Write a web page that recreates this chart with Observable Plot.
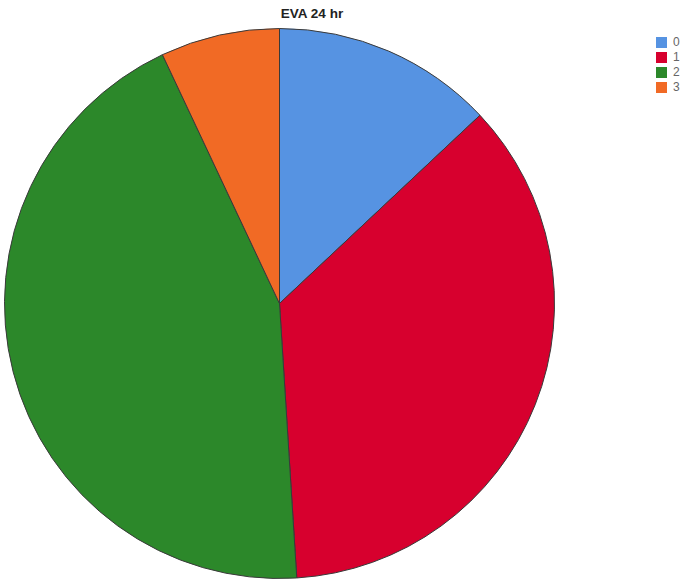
<!DOCTYPE html>
<html>
<head>
<meta charset="utf-8">
<script src="https://cdn.jsdelivr.net/npm/d3@7"></script>
<script src="https://cdn.jsdelivr.net/npm/@observablehq/plot@0.6"></script>
<style>
  html, body { margin: 0; padding: 0; background: #fff; }
  #wrap { position: relative; width: 689px; height: 581px; overflow: hidden; }
  #title { position: absolute; left: 262px; top: 6px; width: 100px; text-align: center;
           font: bold 13.5px "Liberation Sans", Arial, sans-serif; color: #222; }
  #legend { position: absolute; left: 656px; top: 35px; }
</style>
</head>
<body>
<div id="wrap">
  <div id="chart"></div>
  <div id="title"></div>
  <div id="legend"></div>
</div>
<script>
const title = "EVA 24 hr";
const categories = ["0", "1", "2", "3"];
const percents = [13, 36, 44, 7];
const colors = ["#5693e2", "#d7002e", "#2c882a", "#f16a25"];

const data = categories.map((c, i) => ({category: c, value: percents[i]}));

const W = 689, H = 581;
const cx = 279.5, cy = 303.5, R = 275;

function pieMark(index, scales, values, dimensions) {
  const color = d3.scaleOrdinal(categories, colors);
  const arcs = d3.pie().sort(null).value(d => d.value)(data);
  const arc = d3.arc().innerRadius(0).outerRadius(R);
  const g = d3.create("svg:g").attr("transform", `translate(${scales.x(cx)},${scales.y(cy)})`);
  g.selectAll("path").data(arcs).join("path")
    .attr("d", arc)
    .attr("fill", d => color(d.data.category))
    .attr("stroke", "#3a3a3a")
    .attr("stroke-width", 1)
    .attr("stroke-linejoin", "round");
  return g.node();
}

const chart = Plot.plot({
  width: W,
  height: H,
  margin: 0,
  x: {domain: [0, W], range: [0, W], axis: null},
  y: {domain: [0, H], range: [0, H], axis: null},
  marks: [pieMark]
});
document.getElementById("chart").appendChild(chart);
document.getElementById("title").textContent = title;

const legend = Plot.legend({
  color: {type: "ordinal", domain: categories, range: colors},
  columns: 1,
  swatchSize: 11,
  style: {fontSize: "12px", fontFamily: "Liberation Sans, Arial, sans-serif", color: "#666", lineHeight: "14px"}
});
document.getElementById("legend").appendChild(legend);
</script>
</body>
</html>
